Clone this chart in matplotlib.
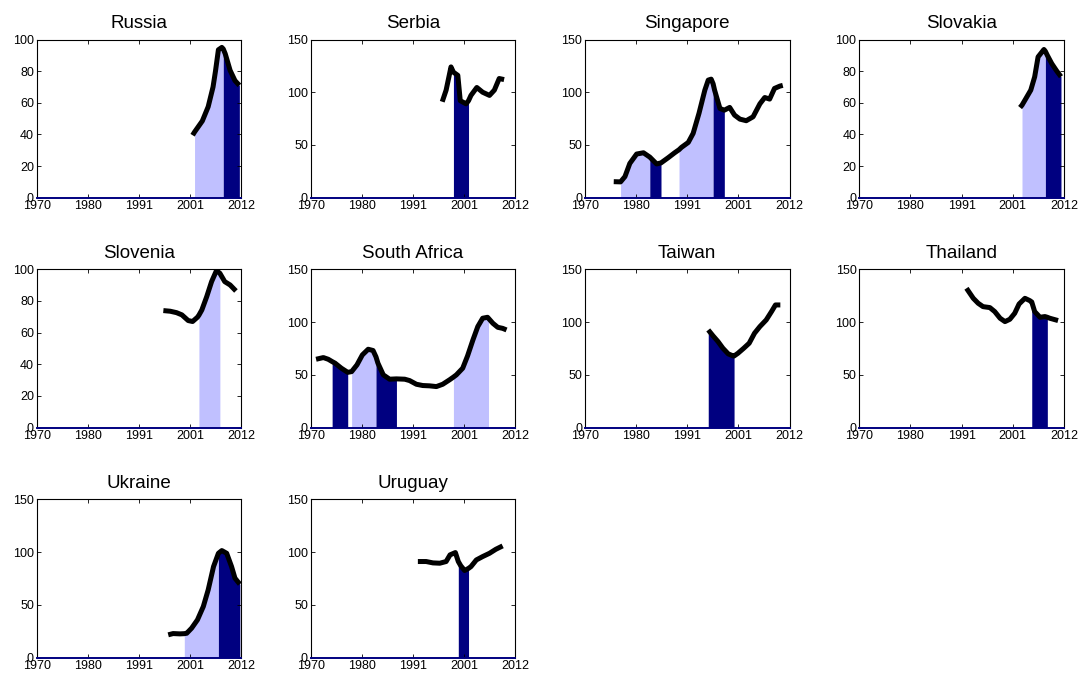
import numpy as np
import matplotlib
matplotlib.use("Agg")
import matplotlib.pyplot as plt

plt.rcParams['font.family'] = ['Liberation Sans', 'DejaVu Sans']

LIGHT = '#c0c0ff'
NAVY = '#000080'

xtick_labels = ['1970', '1980', '1991', '2001', '2012']

countries = ['Russia', 'Serbia', 'Singapore', 'Slovakia', 'Slovenia',
             'South Africa', 'Taiwan', 'Thailand', 'Ukraine', 'Uruguay']

ymax = {'Russia': 100, 'Serbia': 150, 'Singapore': 150, 'Slovakia': 100,
        'Slovenia': 100, 'South Africa': 150, 'Taiwan': 150, 'Thailand': 150,
        'Ukraine': 150, 'Uruguay': 150}

russia_years = [2002.0, 2002.4, 2003.2, 2004.0, 2005.2, 2006.2, 2006.7, 2007.3, 2008.0,
                2008.3, 2008.7, 2009.7, 2010.7, 2011.6]
russia_vals = [39.5, 41.5, 45, 48.5, 57.5, 70, 80, 93.5, 95, 94, 91, 80.5, 74, 71]
russia_booms = [(2002.4, 2008.3)]
russia_busts = [(2008.3, 2011.6)]

serbia_years = [1997.0, 1997.8, 1998.8, 1999.3, 2000.2, 2000.7, 2001.9, 2002.4, 2002.9,
                2004.1, 2005.3, 2006.7, 2007.7, 2008.7, 2009.7]
serbia_vals = [91, 102, 124, 119, 116, 92, 89, 92, 97, 104.5, 100, 97, 102, 113, 112]
serbia_booms = []
serbia_busts = [(1999.3, 2002.4)]

singapore_years = [1975.9, 1977.3, 1978.2, 1979.2, 1980.6, 1982.0, 1983.3, 1984.7, 1985.6,
                   1987.1, 1988.4, 1989.3, 1989.8, 1991.2, 1992.2, 1993.4, 1994.6, 1995.3,
                   1995.9, 1996.3, 1996.6, 1997.7, 1998.6, 1999.7, 2000.7, 2001.8, 2003.1,
                   2004.5, 2005.9, 2006.9, 2007.9, 2008.9, 2010.0, 2010.6]
singapore_vals = [15.2, 15, 20, 32.5, 41.4, 42.6, 38.5, 32, 33, 38, 42.6, 45.5, 47.7, 52.4,
                  61, 80, 102, 111.5, 112.4, 108, 102, 84.6, 83, 85.6, 78.3, 74.5, 73,
                  76.7, 89, 95, 93.5, 103.6, 105.8, 106.5]
singapore_booms = [(1977.3, 1983.3), (1989.3, 1996.3)]
singapore_busts = [(1983.3, 1985.6), (1996.3, 1998.6)]

slovakia_years = [2003.0, 2003.4, 2004.2, 2005.2, 2006.0, 2006.7, 2007.9, 2008.2, 2008.6,
                  2009.5, 2010.5, 2011.4]
slovakia_vals = [57, 58.5, 62.7, 68, 76.4, 89, 93.7, 92.5, 90, 84.8, 80.2, 76.5]
slovakia_booms = [(2003.4, 2008.2)]
slovakia_busts = [(2008.2, 2011.4)]

slovenia_years = [1996.0, 1997.4, 1998.7, 1999.8, 2001.1, 2002.0, 2003.0, 2003.3, 2003.9,
                  2004.9, 2005.9, 2006.9, 2007.6, 2008.6, 2009.7, 2010.9]
slovenia_vals = [73.9, 73.5, 72.6, 71.2, 67.6, 67, 69.7, 71, 74.3, 82.7, 92.2, 99.2, 97.5,
                 92.2, 90.1, 86.3]
slovenia_booms = [(2003.3, 2007.6)]
slovenia_busts = []

safrica_years = [1971.1, 1972.6, 1973.6, 1974.4, 1975.0, 1976.3, 1977.6, 1978.4, 1979.5,
                 1980.6, 1981.8, 1982.8, 1983.4, 1983.8, 1984.9, 1986.2, 1987.6, 1989.3,
                 1990.3, 1991.7, 1993.0, 1994.4, 1995.8, 1997.1, 1998.5, 1999.3, 1999.9,
                 2001.2, 2002.2, 2003.3, 2004.3, 2005.3, 2006.3, 2006.5, 2007.4, 2008.4,
                 2009.4, 2010.2]
safrica_vals = [64.7, 66.3, 64.7, 62.5, 61, 56.2, 52.3, 53, 59.4, 68.8, 74.2, 73, 67, 61,
                49.9, 45.8, 46.1, 45.8, 44.5, 41, 39.8, 39.5, 38.8, 41, 45.2, 47.8, 49.9,
                56.2, 67.9, 83, 95.7, 103.6, 104.5, 103.5, 98.8, 95, 94, 92.5]
safrica_booms = [(1978.4, 1983.4), (1999.3, 2006.5)]
safrica_busts = [(1974.4, 1977.6), (1983.4, 1987.6)]

taiwan_years = [1995.3, 1996.3, 1997.3, 1998.3, 1999.4, 2000.4, 2000.6, 2001.4, 2002.6,
                2003.7, 2004.8, 2005.9, 2007.2, 2008.3, 2009.1, 2010.1]
taiwan_vals = [92.5, 86.8, 81.5, 75.2, 69.8, 67.9, 67.8, 70.4, 75.2, 79.9, 89.4, 95.7, 102,
               110, 116.2, 116.2]
taiwan_booms = []
taiwan_busts = [(1995.3, 2000.6)]

thailand_years = [1992.0, 1993.4, 1994.4, 1995.4, 1996.8, 1997.8, 1998.9, 1999.9, 2000.9,
                  2001.9, 2002.8, 2004.0, 2005.0, 2005.4, 2006.0, 2007.1, 2008.1, 2008.6,
                  2009.1, 2010.8]
thailand_vals = [132, 122.5, 117.8, 114.6, 113.7, 109.9, 103.6, 100.4, 102.6, 108.3, 117.1,
                 122.5, 120.3, 119, 109.9, 104.5, 105.2, 104.5, 103.6, 101.4]
thailand_booms = []
thailand_busts = [(2005.4, 2008.6)]

ukraine_years = [1997.0, 1998.0, 1999.4, 2000.3, 2000.8, 2001.8, 2003.0, 2004.2, 2005.2,
                 2006.3, 2007.3, 2008.0, 2009.0, 2010.0, 2010.7, 2011.7]
ukraine_vals = [21.5, 22.7, 22.4, 22.6, 23, 27.8, 35.7, 48.3, 64.1, 86.2, 98.8, 101.4, 98.8,
                86.2, 75.2, 69.5]
ukraine_booms = [(2000.3, 2007.3)]
ukraine_busts = [(2007.3, 2011.7)]

uruguay_years = [1992.0, 1993.7, 1995.1, 1996.5, 1997.8, 1998.6, 1999.7, 2000.3, 2000.8,
                 2001.6, 2002.4, 2002.9, 2004.0, 2005.3, 2006.7, 2008.0, 2009.4]
uruguay_vals = [91, 91, 89.7, 89.4, 91, 97.3, 99.5, 91, 87, 82.5, 84.5, 86.2, 92.5, 95.7,
                98.8, 102.6, 105.8]
uruguay_booms = []
uruguay_busts = [(2000.3, 2002.4)]

series = {
    'Russia': (russia_years, russia_vals, russia_booms, russia_busts),
    'Serbia': (serbia_years, serbia_vals, serbia_booms, serbia_busts),
    'Singapore': (singapore_years, singapore_vals, singapore_booms, singapore_busts),
    'Slovakia': (slovakia_years, slovakia_vals, slovakia_booms, slovakia_busts),
    'Slovenia': (slovenia_years, slovenia_vals, slovenia_booms, slovenia_busts),
    'South Africa': (safrica_years, safrica_vals, safrica_booms, safrica_busts),
    'Taiwan': (taiwan_years, taiwan_vals, taiwan_booms, taiwan_busts),
    'Thailand': (thailand_years, thailand_vals, thailand_booms, thailand_busts),
    'Ukraine': (ukraine_years, ukraine_vals, ukraine_booms, ukraine_busts),
    'Uruguay': (uruguay_years, uruguay_vals, uruguay_booms, uruguay_busts),
}

W, H = 1082, 678
fig = plt.figure(figsize=(W / 100, H / 100), dpi=100)

col_left = [36.7, 310.7, 585.0, 859.3]
row_top = [39.5, 269.3, 499.3]
ax_w = 204.6
ax_h = 158.2

for i, name in enumerate(countries):
    r, c = divmod(i, 4)
    left = col_left[c] / W
    bottom = 1 - (row_top[r] + ax_h) / H
    ax = fig.add_axes([left, bottom, ax_w / W, ax_h / H])
    yrs, vals, booms, busts = series[name]
    x = np.array(yrs)
    y = np.array(vals)
    eps = 1e-6
    for (s, e) in booms:
        m = (x >= s - eps) & (x <= e + eps)
        ax.fill_between(x, 0, y, where=m, color=LIGHT, linewidth=0)
    for (s, e) in busts:
        m = (x >= s - eps) & (x <= e + eps)
        ax.fill_between(x, 0, y, where=m, color=NAVY, linewidth=0)
    ax.plot(x, y, color='black', linewidth=3.6, solid_capstyle='butt', solid_joinstyle='round')
    ax.set_xlim(1970, 2012)
    ym = ymax[name]
    ax.set_ylim(0, ym)
    ax.set_xticks(np.linspace(1970, 2012, 5))
    ax.set_xticklabels(xtick_labels)
    step = 20 if ym == 100 else 50
    ax.set_yticks(np.arange(0, ym + 1, step))
    ax.tick_params(direction='in', top=True, right=True, length=3, width=0.6,
                   labelsize=9, pad=2)
    ax.tick_params(axis='x', pad=1.5)
    for sp in ax.spines.values():
        sp.set_linewidth(0.8)
    ax.spines['bottom'].set_color(NAVY)
    ax.spines['bottom'].set_linewidth(1.4)
    ax.set_title(name, fontsize=13.5, pad=8)

fig.savefig('out.png', dpi=100)
